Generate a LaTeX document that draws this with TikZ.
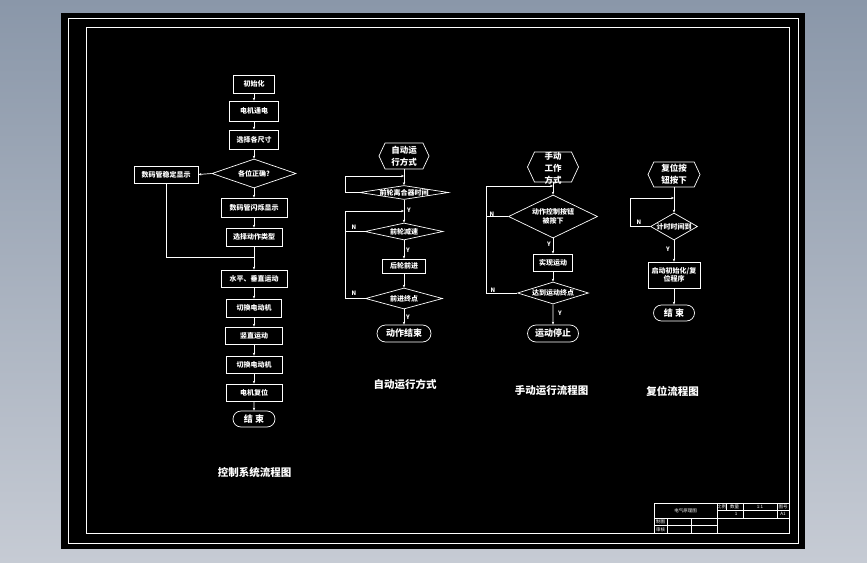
\documentclass[tikz,border=0pt]{standalone}
\usepackage{fontspec}
\setmainfont{Noto Sans CJK SC}
\usepackage{xcolor}
\usetikzlibrary{positioning, arrows.meta, shapes.geometric, shapes.misc, shapes.symbols}

\definecolor{bgtop}{RGB}{138,151,169}
\definecolor{bgbot}{RGB}{198,203,212}

\begin{document}
\begin{tikzpicture}[x=1pt, y=-1pt,
  box/.style={draw=white, line width=0.7pt, inner sep=0pt, text=white, font=\fontsize{7}{8}\selectfont\bfseries},
  dec/.style={diamond, draw=white, line width=0.7pt, inner sep=0pt},
  hexa/.style={signal, signal to=east and west, signal pointer angle=130, draw=white, line width=0.7pt, inner sep=0pt},
  term/.style={rounded rectangle, draw=white, line width=0.7pt, inner sep=0pt, text=white, font=\fontsize{9}{10}\selectfont\bfseries},
  dlab/.style={text=white, align=center, inner sep=0pt, font=\fontsize{7}{9}\selectfont\bfseries},
  hlab/.style={text=white, align=center, inner sep=0pt, font=\fontsize{8.5}{12}\selectfont\bfseries},
  flow/.style={-{Stealth[length=3pt, width=2.4pt]}, draw=white, line width=0.7pt},
  yn/.style={text=white, inner sep=0pt, font=\fontsize{6}{6}\selectfont\bfseries},
  ttl/.style={text=white, font=\fontsize{10.5}{12}\selectfont\bfseries},
  tb/.style={text=white, inner sep=0pt, font=\fontsize{4.5}{5}\selectfont}
]
  % sheet
  \useasboundingbox (0,0) rectangle (867,562);
  \shade[top color=bgtop, bottom color=bgbot] (0,0) rectangle (867,562);
  \fill[black] (61,13) rectangle (805,549);
  \draw[white, line width=0.6pt] (68,18) rectangle (798,543);
  \draw[white, line width=0.8pt] (86,27) rectangle (789,533);

  % 控制系统流程图
  \node[box, minimum width=41, minimum height=18] (init) at (254,84) {初始化};
  \node[box, minimum width=49, minimum height=20] (power) at (254,111) {电机通电};
  \node[box, minimum width=49, minimum height=19] (size) at (254,139.5) {选择各尺寸};
  \node[dec, minimum width=84, minimum height=29] (pos) at (254,173.5) {};
  \node[dlab] (post) at (pos) {各位正确?};
  \node[box, minimum width=64, minimum height=17] (steady) at (166,174.5) {数码管稳定显示};
  \node[box, minimum width=66, minimum height=19] (flash) at (254,207.5) {数码管闪烁显示};
  \node[box, minimum width=56, minimum height=18] (type) at (254,237) {选择动作类型};
  \coordinate (merge) at (254,257);
  \node[box, minimum width=66, minimum height=17] (hv) at (254,278.5) {水平、垂直运动};
  \node[box, minimum width=55, minimum height=18] (sw1) at (254,308) {切换电动机};
  \node[box, minimum width=57, minimum height=17] (vert) at (254,335.5) {竖直运动};
  \node[box, minimum width=56, minimum height=17] (sw2) at (254,364.5) {切换电动机};
  \node[box, minimum width=56, minimum height=17] (back) at (254,392.5) {电机复位};
  \node[term, minimum width=42, minimum height=16] (end1) at (254,419) {结\ 束};

  \draw[flow] (init) -- (power);
  \draw[flow] (power) -- (size);
  \draw[flow] (size) -- (pos);
  \draw[flow] (pos.west) -- (steady.east);
  \draw[flow] (pos) -- (flash);
  \draw[flow] (flash) -- (type);
  \draw[white, line width=0.7pt] (steady.south) |- (merge);
  \draw[flow] (type) -- (hv);
  \draw[flow] (hv) -- (sw1);
  \draw[flow] (sw1) -- (vert);
  \draw[flow] (vert) -- (sw2);
  \draw[flow] (sw2) -- (back);
  \draw[flow] (back) -- (end1);

  % 自动运行方式
  \node[hexa, minimum width=50, minimum height=26] (auto) at (404,156) {};
  \node[hlab] (autot) at (auto) {自动运\\行方式};
  \node[dec, minimum width=89, minimum height=14] (clutch) at (404,192.5) {};
  \node[dlab] (clutcht) at (clutch) {前轮离合器时间};
  \node[dec, minimum width=78, minimum height=17] (slow) at (404,231.5) {};
  \node[dlab] (slowt) at (slow) {前轮减速};
  \node[box, minimum width=43, minimum height=14] (rear) at (404,266) {后轮前进};
  \node[dec, minimum width=77, minimum height=21] (goal) at (404,298.5) {};
  \node[dlab] (goalt) at (goal) {前进终点};
  \node[term, minimum width=54, minimum height=17] (end2) at (404,333.5) {动作结束};
  \coordinate (c1) at (345,176);
  \coordinate (j1) at (404,176);
  \coordinate (c2) at (345,211);
  \coordinate (j2) at (404,211);

  \draw[flow] (auto) -- (clutch);
  \draw[flow] (clutch.west) -| (c1) -- (j1);
  \draw[flow] (clutch) -- (slow);
  \draw[flow] (slow) -- (rear);
  \draw[flow] (rear) -- (goal);
  \draw[flow] (goal) -- (end2);
  \draw[flow] (goal.west) -| (c2) -- (j2);
  \draw[white, line width=0.7pt] (slow.west) -- (slow.west -| c2);
  \node[yn] (y1) at (409,210) {Y};
  \node[yn] (y2) at (408,250) {Y};
  \node[yn] (y3) at (408,317) {Y};
  \node[yn] (n1) at (354,227) {N};
  \node[yn] (n2) at (354,293) {N};

  % 手动运行流程图
  \node[hexa, minimum width=51, minimum height=30] (hand) at (553,167) {};
  \node[hlab] (handt) at (553,168) {手动\\工作\\方式};
  \node[dec, minimum width=89, minimum height=43] (press) at (553,216.5) {};
  \node[dlab] (presst) at (press) {动作控制按钮\\被按下};
  \node[box, minimum width=39, minimum height=17] (move) at (553,262.5) {实现运动};
  \node[dec, minimum width=71, minimum height=22] (stop) at (553,293) {};
  \node[dlab] (stopt) at (stop) {达到运动终点};
  \node[term, minimum width=51, minimum height=17] (end3) at (553,333.5) {运动停止};
  \coordinate (c3) at (486,186);
  \coordinate (j3) at (553,186);

  \draw[flow] (hand) -- (press);
  \draw[flow] (press) -- (move);
  \draw[flow] (move) -- (stop);
  \draw[flow] (stop) -- (end3);
  \draw[flow] (stop.west) -| (c3) -- (j3);
  \draw[white, line width=0.7pt] (press.west) -- (press.west -| c3);
  \node[yn] (n3) at (492,214) {N};
  \node[yn] (n4) at (493,290) {N};
  \node[yn] (y4) at (549,244) {Y};
  \node[yn] (y5) at (560,313) {Y};

  % 复位流程图
  \node[hexa, minimum width=52, minimum height=25] (rst) at (674,174.5) {};
  \node[hlab] (rstt) at (rst) {复位按\\钮按下};
  \node[dec, minimum width=47, minimum height=27] (timer) at (674,226.5) {};
  \node[dlab] (timert) at (timer) {计时时间到};
  \node[box, minimum width=52, minimum height=26, align=center] (prog) at (674,275) {启动初始化/复\\位程序};
  \node[term, minimum width=41, minimum height=16] (end4) at (674,313) {结\ 束};
  \coordinate (c4) at (630,198);
  \coordinate (j4) at (674,198);

  \draw[flow] (rst) -- (timer);
  \draw[flow] (timer.west) -| (c4) -- (j4);
  \draw[flow] (timer) -- (prog);
  \draw[flow] (prog) -- (end4);
  \node[yn] (n5) at (639,222) {N};
  \node[yn] (y6) at (668,249) {Y};

  % titles
  \node[ttl] (t1) at (254.5,472) {控制系统流程图};
  \node[ttl] (t2) at (405,384.5) {自动运行方式};
  \node[ttl] (t3) at (551.5,390.5) {手动运行流程图};
  \node[ttl] (t4) at (672.5,391) {复位流程图};

  % title block
  \draw[white, line width=0.5pt] (654,503) rectangle (789,533);
  \draw[white, line width=0.5pt] (717,503) -- (717,533);
  \draw[white, line width=0.5pt] (654,518) -- (789,518);
  \draw[white, line width=0.5pt] (717,510.5) -- (789,510.5);
  \draw[white, line width=0.5pt] (654,525.5) -- (717,525.5);
  \draw[white, line width=0.5pt] (667,518) -- (667,533);
  \draw[white, line width=0.5pt] (691,518) -- (691,533);
  \draw[white, line width=0.5pt] (726,503) -- (726,510.5);
  \draw[white, line width=0.5pt] (743,503) -- (743,518);
  \draw[white, line width=0.5pt] (777,503) -- (777,518);
  \node[tb] (tbname) at (685.5,510.5) {电气原理图};
  \node[tb] (tbscale) at (721.5,506.8) {比例};
  \node[tb] (tbnum) at (734.5,506.8) {数量};
  \node[tb] (tbratio) at (760,506.8) {1:1};
  \node[tb] (tbno) at (783,506.8) {图号};
  \node[tb] (tbone) at (736,514.3) {1};
  \node[tb] (tbsize) at (783,514.3) {A1};
  \node[tb] (tbdraw) at (660.5,521.8) {制图};
  \node[tb] (tbcheck) at (660.5,529.3) {审核};
\end{tikzpicture}
\end{document}
